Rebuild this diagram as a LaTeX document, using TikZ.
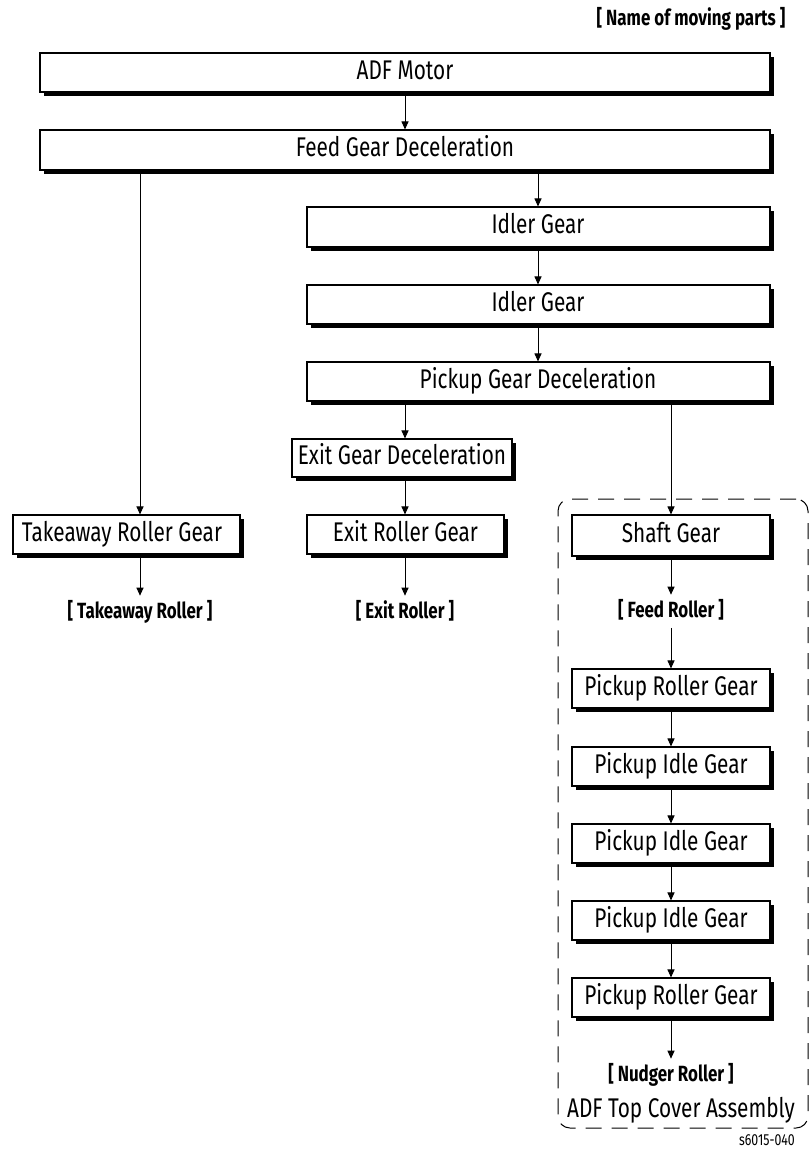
\documentclass[tikz,border=0pt]{standalone}
\usepackage{fontspec}
\setmainfont{Fira Sans}[FakeStretch=0.77]
\usetikzlibrary{arrows.meta,shadows}
\begin{document}
\begin{tikzpicture}[x=1pt,y=-1pt,
  gbox/.style={draw, fill=white, line width=1.1pt, rectangle, inner sep=0pt,
    drop shadow={shadow xshift=4pt, shadow yshift=-4pt, opacity=1, fill=black}},
  conn/.style={line width=1pt, -{Triangle[length=8pt,width=7pt]}},
  txt/.style={font=\fontsize{27}{27}\selectfont, inner sep=0pt, anchor=base},
  part/.style={font=\bfseries\fontsize{22}{22}\selectfont, inner sep=0pt, anchor=base},
  small/.style={font=\fontsize{16}{16}\selectfont, inner sep=0pt, anchor=base}]
\path[use as bounding box] (0,0) rectangle (810,1157);

% column coordinates
\coordinate (cA) at (140,0);
\coordinate (cB) at (405,0);
\coordinate (cC) at (538,0);
\coordinate (cD) at (671,0);

% dashed assembly frame
\node[draw, dashed, dash pattern=on 16pt off 10pt, line width=1pt, rounded corners=12pt,
  minimum width=250pt, minimum height=629pt, inner sep=0pt] (assy) at (683,813.5) {};

% boxes
\node[gbox, minimum width=730pt, minimum height=39pt] (motor) at (405,72.5) {};
\node[gbox, minimum width=730pt, minimum height=40pt] (feed) at (405,150) {};
\node[gbox, minimum width=463pt, minimum height=40pt] (idler1) at (538.5,227) {};
\node[gbox, minimum width=463pt, minimum height=39pt] (idler2) at (538.5,304.5) {};
\node[gbox, minimum width=463pt, minimum height=39pt] (pickup) at (538.5,381.5) {};
\node[gbox, minimum width=220pt, minimum height=38pt] (exitdec) at (402,458) {};
\node[gbox, minimum width=227pt, minimum height=39pt] (takeaway) at (126.5,534.5) {};
\node[gbox, minimum width=197pt, minimum height=39pt] (exitroll) at (405.5,534.5) {};
\node[gbox, minimum width=198pt, minimum height=41pt] (shaft) at (671,535.5) {};
\node[gbox, minimum width=198pt, minimum height=39pt] (prg1) at (671,688.5) {};
\node[gbox, minimum width=198pt, minimum height=39pt] (pig1) at (671,766.5) {};
\node[gbox, minimum width=198pt, minimum height=39pt] (pig2) at (671,843.5) {};
\node[gbox, minimum width=198pt, minimum height=39pt] (pig3) at (671,920.5) {};
\node[gbox, minimum width=198pt, minimum height=39pt] (prg2) at (671,997.5) {};

% box texts
\node[txt] (motor-t) at (405,79) {ADF Motor};
\node[txt] (feed-t) at (405,156.5) {Feed Gear Deceleration};
\node[txt] (idler1-t) at (538,233.5) {Idler Gear};
\node[txt] (idler2-t) at (538,311) {Idler Gear};
\node[txt] (pickup-t) at (538,388) {Pickup Gear Deceleration};
\node[txt] (exitdec-t) at (402,464.5) {Exit Gear Deceleration};
\node[txt] (takeaway-t) at (122,541) {Takeaway Roller Gear};
\node[txt] (exitroll-t) at (405.5,541) {Exit Roller Gear};
\node[txt] (shaft-t) at (671,542) {Shaft Gear};
\node[txt] (prg1-t) at (671,695) {Pickup Roller Gear};
\node[txt] (pig1-t) at (671,773) {Pickup Idle Gear};
\node[txt] (pig2-t) at (671,850) {Pickup Idle Gear};
\node[txt] (pig3-t) at (671,927) {Pickup Idle Gear};
\node[txt] (prg2-t) at (671,1004) {Pickup Roller Gear};

% part labels
\node[part] (takeawayroller) at (140,618) {[ Takeaway Roller ]};
\node[part] (exitroller) at (405,618) {[ Exit Roller ]};
\node[part] (feedroller) at (671,617) {[ Feed Roller ]};
\node[part] (nudger) at (671,1081) {[ Nudger Roller ]};
\node[part] (legend) at (691,25) {[ Name of moving parts ]};
\node[txt] (cover) at (681,1117) {ADF Top Cover Assembly};
\node[small] (code) at (767,1145) {s6015-040};

% connectors
\draw[conn] (motor.south -| cB) -- (feed.north -| cB);
\draw[conn] (feed.south -| cC) -- (idler1.north -| cC);
\draw[conn] (idler1.south -| cC) -- (idler2.north -| cC);
\draw[conn] (idler2.south -| cC) -- (pickup.north -| cC);
\draw[conn] (feed.south -| cA) -- (takeaway.north -| cA);
\draw[conn] (pickup.south -| cB) -- (exitdec.north -| cB);
\draw[conn] (pickup.south -| cD) -- (shaft.north -| cD);
\draw[conn] (exitdec.south -| cB) -- (exitroll.north -| cB);
\draw[conn] (takeaway.south -| cA) -- ([yshift=4pt]takeawayroller.north -| cA);
\draw[conn] (exitroll.south -| cB) -- ([yshift=4pt]exitroller.north -| cB);
\draw[conn] (shaft.south -| cD) -- ([yshift=4pt]feedroller.north -| cD);
\draw[conn] ([yshift=-8pt]feedroller.south -| cD) -- (prg1.north -| cD);
\draw[conn] (prg1.south -| cD) -- (pig1.north -| cD);
\draw[conn] (pig1.south -| cD) -- (pig2.north -| cD);
\draw[conn] (pig2.south -| cD) -- (pig3.north -| cD);
\draw[conn] (pig3.south -| cD) -- (prg2.north -| cD);
\draw[conn] (prg2.south -| cD) -- ([yshift=4pt]nudger.north -| cD);
\end{tikzpicture}
\end{document}
